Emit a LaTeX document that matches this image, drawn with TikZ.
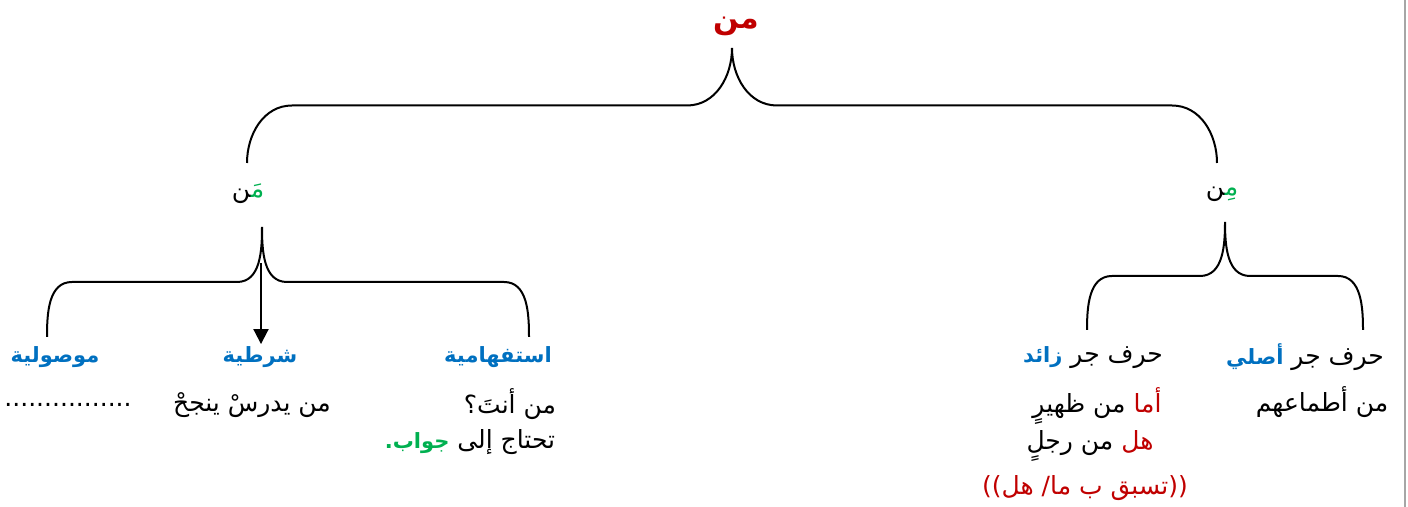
\documentclass[tikz,border=0pt]{standalone}
\usepackage{fontspec}
\usepackage{xcolor}
\usetikzlibrary{arrows.meta,calc}
\TeXXeTstate=1
\newfontfamily\arabicfont[Script=Arabic]{DejaVu Sans}
\definecolor{arred}{HTML}{C00000}
\definecolor{arblue}{HTML}{0070C0}
\definecolor{argreen}{HTML}{00B050}
\newcommand{\ar}[1]{\beginR #1\endR}
\newcommand{\clr}[2]{\beginL\textcolor{#1}{#2}\endL}
\newcommand{\hw}[2]{\beginL\textcolor{#1}{\bfseries\fontsize{10.5}{12}\selectfont #2}\endL}
% brace: left end, tip, right end, curve radius
\newcommand{\treebrace}[4]{%
  \draw[brace] let \p1=(#1), \p2=(#2), \p3=(#3), \n1={(\y1+\y2)/2} in
    (\p1) to[out=90,in=180] (\x1+#4,\n1) -- (\x2-#4,\n1) to[out=0,in=-90] (\p2)
    to[out=-90,in=180] (\x2+#4,\n1) -- (\x3-#4,\n1) to[out=0,in=90] (\p3);
}
\tikzset{
  >=Stealth,
  brace/.style={line width=1pt},
  tr/.style={-{Triangle[length=7.5pt,width=7.5pt]}, line width=1pt},
  lbl/.style={font=\arabicfont\fontsize{12.5}{14}\selectfont, inner sep=1pt},
  hd/.style={lbl, font=\arabicfont\bfseries\fontsize{10.5}{12}\selectfont, text=arblue},
  root/.style={lbl, font=\arabicfont\bfseries\fontsize{15}{17}\selectfont, text=arred}
}
\begin{document}
\begin{tikzpicture}[x=0.5pt,y=0.5pt]
    \useasboundingbox (0,0) rectangle (1408,507);
    \draw[gray!70, line width=1pt] (1405,0) -- (1405,507);

    % Root
    \node[root] (min) at (736,481) {\ar{من}};
    \coordinate (tipTop) at (732,459);
    \coordinate (endMan) at (247,344);
    \coordinate (endMin) at (1217,344);
    \treebrace{endMan}{tipTop}{endMin}{22.5pt}

    % Second level
    \node[lbl] (man) at (248,313) {\ar{\clr{argreen}{مَ^^^^200d}^^^^200dن}};
    \node[lbl] (minJar) at (1222,313) {\ar{\clr{argreen}{مِ^^^^200d}^^^^200dن}};

    % Branches of man
    \coordinate (tipMan) at (262,280);
    \coordinate (endMawsul) at (47,170);
    \coordinate (endIstifham) at (529,170);
    \treebrace{endMawsul}{tipMan}{endIstifham}{12.5pt}

    \node[hd] (mawsul) at (55,150) {\ar{موصولية}};
    \node[lbl] (mawsulEx) at (68,102) {................};

    \node[hd] (shart) at (260,150) {\ar{شرطية}};
    \node[lbl] (shartEx) at (252,102) {\ar{من يدرسْ ينجحْ}};
    \coordinate (arrowTop) at (261,244);
    \draw[tr] (arrowTop) -- (arrowTop |- shart.north);

    \node[hd] (istifham) at (498,150) {\ar{استفهامية}};
    \node[lbl] (istifhamEx) at (510,103) {\ar{من أنتَ؟}};
    \node[lbl] (istifhamNote) at (470,65) {\ar{تحتاج إلى \hw{argreen}{جواب.}}};

    % Branches of min
    \coordinate (tipMin) at (1225,285);
    \coordinate (endZaid) at (1087,177);
    \coordinate (endAsli) at (1363,177);
    \treebrace{endZaid}{tipMin}{endAsli}{12.5pt}

    \node[lbl] (zaid) at (1093,149) {\ar{حرف جر \hw{arblue}{زائد}}};
    \node[lbl] (zaidEx) at (1097,101) {\ar{\clr{arred}{أما} من ظهيرٍ}};
    \node[lbl] (zaidExB) at (1090,61) {\ar{\clr{arred}{هل} من رجلٍ}};
    \node[lbl, text=arred] (zaidNote) at (1085,19) {\ar{((تسبق ب ما/ هل))}};

    \node[lbl] (asli) at (1305,150) {\ar{حرف جر \hw{arblue}{أصلي}}};
    \node[lbl] (asliEx) at (1322,105) {\ar{من أطماعهم}};

\end{tikzpicture}
\end{document}
